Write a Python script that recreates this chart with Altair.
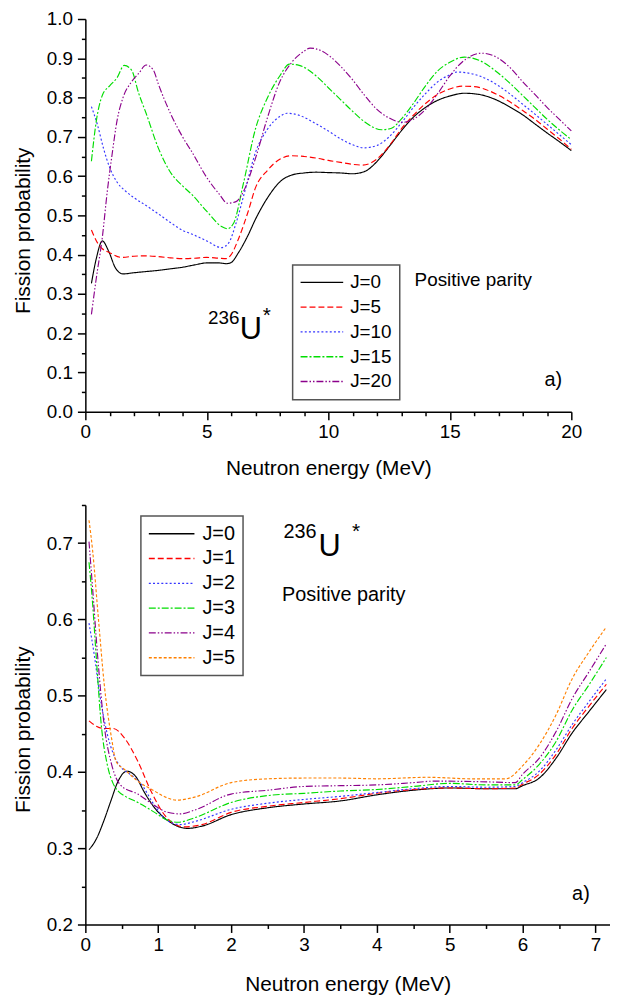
import altair as alt
import pandas as pd

FONT = "Liberation Sans, Arial, Helvetica, sans-serif"

# ---------------- top panel data (J = 0 .. 20) ----------------
top_labels = ["J=0", "J=5", "J=10", "J=15", "J=20"]
top_colors = ["#000000", "#ff0000", "#3535ff", "#00dd00", "#8b008b"]
top_dashes = [[1, 0], [6, 3], [2, 2.2], [7, 2, 2, 2], [7, 2, 1.5, 2, 1.5, 2]]

top_j0_x = [0.25, 0.45, 0.7, 0.95, 1.25, 1.55, 2.0, 2.5, 3.0, 3.5, 4.0, 4.5, 5.0, 5.5, 5.8, 6.0, 6.3, 6.7, 7.0, 7.5, 8.0, 8.5, 9.0, 9.5, 10.0, 10.5, 11.0, 11.5, 12.0, 12.5, 13.0, 13.5, 14.0, 14.5, 15.0, 15.6, 16.2, 16.8, 17.5, 18.0, 18.5, 19.0, 19.5, 20.0]
top_j0_y = [0.327, 0.39, 0.435, 0.41, 0.365, 0.351, 0.354, 0.357, 0.36, 0.364, 0.368, 0.374, 0.379, 0.379, 0.377, 0.38, 0.405, 0.45, 0.49, 0.545, 0.585, 0.603, 0.608, 0.61, 0.609, 0.608, 0.606, 0.612, 0.637, 0.675, 0.715, 0.75, 0.775, 0.793, 0.804, 0.811, 0.808, 0.797, 0.775, 0.756, 0.733, 0.71, 0.688, 0.665]

top_j5_x = [0.25, 0.5, 0.7, 1.0, 1.5, 2.0, 2.5, 3.0, 3.5, 4.0, 4.5, 5.0, 5.5, 5.8, 6.0, 6.3, 6.7, 7.0, 7.5, 8.0, 8.5, 9.0, 9.5, 10.0, 10.5, 11.0, 11.4, 11.8, 12.2, 12.6, 13.0, 13.5, 14.0, 14.5, 15.0, 15.5, 16.0, 16.5, 17.0, 17.5, 18.0, 18.5, 19.0, 19.5, 20.0]
top_j5_y = [0.463, 0.43, 0.415, 0.405, 0.393, 0.396, 0.397, 0.395, 0.392, 0.39, 0.391, 0.393, 0.391, 0.39, 0.40, 0.44, 0.51, 0.57, 0.615, 0.643, 0.652, 0.65, 0.646, 0.64, 0.635, 0.63, 0.628, 0.635, 0.655, 0.685, 0.72, 0.755, 0.785, 0.808, 0.822, 0.829, 0.828, 0.82, 0.806, 0.788, 0.767, 0.745, 0.72, 0.695, 0.668]

top_j10_x = [0.25, 0.5, 0.75, 1.0, 1.3, 1.65, 2.0, 2.5, 3.0, 3.5, 4.0, 4.4, 5.0, 5.6, 5.9, 6.2, 6.6, 7.0, 7.5, 8.0, 8.3, 8.8, 9.5, 10.0, 10.5, 11.0, 11.45, 12.0, 12.5, 13.0, 13.5, 14.0, 14.5, 15.0, 15.3, 15.8, 16.5, 17.0, 17.5, 18.0, 18.5, 19.0, 19.5, 20.0]
top_j10_y = [0.777, 0.73, 0.67, 0.622, 0.585, 0.562, 0.545, 0.525, 0.504, 0.482, 0.462, 0.452, 0.435, 0.418, 0.43, 0.48, 0.57, 0.66, 0.72, 0.752, 0.76, 0.755, 0.733, 0.715, 0.695, 0.68, 0.672, 0.678, 0.70, 0.735, 0.775, 0.81, 0.84, 0.858, 0.865, 0.862, 0.848, 0.83, 0.808, 0.783, 0.758, 0.732, 0.706, 0.68]

top_j15_x = [0.25, 0.45, 0.7, 1.0, 1.3, 1.6, 1.9, 2.2, 2.5, 3.0, 3.5, 4.0, 4.4, 5.0, 5.6, 5.85, 6.1, 6.5, 7.0, 7.5, 8.0, 8.4, 8.8, 9.5, 10.0, 10.5, 11.0, 11.5, 12.2, 12.6, 13.0, 13.5, 14.0, 14.5, 15.0, 15.6, 16.2, 17.0, 17.5, 18.0, 18.5, 19.0, 19.5, 20.0]
top_j15_y = [0.638, 0.74, 0.806, 0.83, 0.85, 0.882, 0.87, 0.81, 0.76, 0.672, 0.61, 0.575, 0.552, 0.51, 0.472, 0.466, 0.48, 0.58, 0.72, 0.80, 0.855, 0.885, 0.882, 0.855, 0.825, 0.795, 0.765, 0.738, 0.718, 0.722, 0.745, 0.785, 0.83, 0.868, 0.89, 0.903, 0.895, 0.862, 0.835, 0.805, 0.775, 0.745, 0.718, 0.693]

top_j20_x = [0.25, 0.45, 0.7, 0.9, 1.1, 1.3, 1.55, 1.9, 2.2, 2.5, 2.8, 3.0, 3.5, 4.0, 4.4, 5.0, 5.5, 5.85, 6.2, 6.5, 7.0, 7.5, 8.0, 8.5, 9.0, 9.25, 9.6, 10.0, 10.5, 11.0, 11.5, 12.0, 12.5, 13.05, 13.5, 14.0, 14.5, 15.0, 15.5, 16.3, 17.0, 17.5, 18.0, 18.5, 19.0, 19.5, 20.0]
top_j20_y = [0.248, 0.34, 0.445, 0.56, 0.655, 0.74, 0.80, 0.84, 0.862, 0.883, 0.87, 0.835, 0.76, 0.70, 0.66, 0.596, 0.555, 0.531, 0.535, 0.56, 0.645, 0.75, 0.84, 0.89, 0.918, 0.926, 0.922, 0.908, 0.88, 0.845, 0.805, 0.77, 0.748, 0.737, 0.745, 0.77, 0.81, 0.855, 0.89, 0.913, 0.90, 0.875, 0.84, 0.808, 0.775, 0.745, 0.715]

top_series = [(top_j0_x, top_j0_y), (top_j5_x, top_j5_y), (top_j10_x, top_j10_y),
              (top_j15_x, top_j15_y), (top_j20_x, top_j20_y)]

top_x_ticks = list(range(0, 21))
top_y_ticks = [round(i * 0.05, 2) for i in range(0, 21)]

# ---------------- bottom panel data (J = 0 .. 5) ----------------
bot_labels = ["J=0", "J=1", "J=2", "J=3", "J=4", "J=5"]
bot_colors = ["#000000", "#ff0000", "#3535ff", "#00dd00", "#8b008b", "#ff8000"]
bot_dashes = [[1, 0], [6, 3], [2, 2.2], [7, 2, 2, 2], [7, 2, 1.5, 2, 1.5, 2], [3, 2]]

bot_j0_x = [0.05, 0.15, 0.25, 0.35, 0.45, 0.57, 0.7, 0.8, 0.95, 1.15, 1.4, 1.6, 2.0, 2.5, 3.0, 3.5, 4.0, 4.5, 5.0, 5.5, 5.9, 6.0, 6.23, 6.46, 6.68, 6.91, 7.15]
bot_j0_y = [0.298, 0.312, 0.335, 0.362, 0.388, 0.401, 0.393, 0.375, 0.353, 0.335, 0.326, 0.329, 0.344, 0.353, 0.358, 0.362, 0.37, 0.376, 0.379, 0.378, 0.378, 0.382, 0.392, 0.418, 0.451, 0.479, 0.508]

bot_j1_x = [0.05, 0.15, 0.25, 0.38, 0.54, 0.72, 0.9, 1.1, 1.35, 1.6, 2.0, 2.5, 3.0, 3.5, 4.0, 4.5, 5.0, 5.5, 5.9, 6.0, 6.23, 6.46, 6.68, 6.91, 7.15]
bot_j1_y = [0.467, 0.46, 0.457, 0.457, 0.444, 0.414, 0.375, 0.342, 0.328, 0.331, 0.347, 0.355, 0.36, 0.365, 0.372, 0.377, 0.379, 0.378, 0.379, 0.384, 0.397, 0.423, 0.457, 0.486, 0.515]

bot_j2_x = [0.05, 0.12, 0.2, 0.3, 0.4, 0.5, 0.6, 0.76, 0.95, 1.1, 1.3, 1.5, 2.0, 2.5, 3.0, 3.5, 4.0, 4.5, 5.0, 5.5, 5.9, 6.0, 6.23, 6.46, 6.68, 6.91, 7.15]
bot_j2_y = [0.595, 0.555, 0.50, 0.45, 0.42, 0.405, 0.398, 0.385, 0.356, 0.338, 0.331, 0.335, 0.351, 0.359, 0.364, 0.368, 0.373, 0.378, 0.381, 0.38, 0.381, 0.386, 0.401, 0.429, 0.462, 0.492, 0.522]

bot_j3_x = [0.05, 0.1, 0.15, 0.22, 0.3, 0.38, 0.45, 0.55, 0.72, 0.95, 1.1, 1.27, 1.5, 2.0, 2.5, 3.0, 3.5, 4.0, 4.5, 5.0, 5.5, 5.9, 6.0, 6.23, 6.46, 6.68, 6.91, 7.15]
bot_j3_y = [0.675, 0.62, 0.55, 0.46, 0.41, 0.385, 0.375, 0.368, 0.36, 0.347, 0.338, 0.334, 0.34, 0.36, 0.369, 0.372, 0.375, 0.377, 0.381, 0.385, 0.383, 0.383, 0.39, 0.41, 0.44, 0.481, 0.514, 0.55]

bot_j4_x = [0.05, 0.1, 0.17, 0.26, 0.36, 0.49, 0.72, 0.95, 1.1, 1.3, 1.5, 2.0, 2.5, 3.0, 3.5, 4.0, 4.5, 4.8, 5.5, 5.9, 6.0, 6.23, 6.46, 6.68, 6.91, 7.15]
bot_j4_y = [0.702, 0.64, 0.55, 0.46, 0.41, 0.382, 0.371, 0.356, 0.348, 0.345, 0.35, 0.371, 0.376, 0.381, 0.382, 0.383, 0.386, 0.388, 0.387, 0.386, 0.397, 0.418, 0.453, 0.496, 0.531, 0.568]

bot_j5_x = [0.05, 0.1, 0.18, 0.26, 0.36, 0.42, 0.54, 0.72, 0.95, 1.1, 1.25, 1.5, 2.0, 2.5, 3.0, 3.5, 4.0, 4.7, 5.3, 5.77, 6.0, 6.23, 6.46, 6.68, 6.91, 7.15]
bot_j5_y = [0.73, 0.69, 0.60, 0.514, 0.444, 0.414, 0.403, 0.388, 0.375, 0.367, 0.363, 0.367, 0.386, 0.391, 0.392, 0.392, 0.391, 0.393, 0.391, 0.391, 0.408, 0.436, 0.475, 0.522, 0.557, 0.59]

bot_series = [(bot_j0_x, bot_j0_y), (bot_j1_x, bot_j1_y), (bot_j2_x, bot_j2_y),
              (bot_j3_x, bot_j3_y), (bot_j4_x, bot_j4_y), (bot_j5_x, bot_j5_y)]

bot_x_ticks = [i * 0.5 for i in range(0, 15)]
bot_y_ticks = [round(0.2 + i * 0.05, 2) for i in range(0, 12)]

# annotation positions (data coordinates)
top_iso_x, top_iso_y = [5.05, 6.35, 7.3], [0.239, 0.207, 0.243]
top_par_x, top_par_y = [13.55], [0.335]
top_a_x, top_a_y = [18.9], [0.08]

bot_iso_x, bot_iso_y = [2.72, 3.2, 3.66], [0.715, 0.695, 0.714]
bot_par_x, bot_par_y = [2.7], [0.632]
bot_a_x, bot_a_y = [6.68], [0.24]

# long horizontal legend sample: custom symbol path spanning 6 symbol radii
LEGEND_LINE = "M-3,0L3,0"


def frame(labels, series):
    parts = []
    for lab, (xs, ys) in zip(labels, series):
        parts.append(pd.DataFrame({"E": xs, "P": ys, "J": lab}))
    return pd.concat(parts, ignore_index=True)


def tick_size(test):
    return {"condition": {"test": test, "value": 8}, "value": 4}


def panel(df, labels, colors, dashes, xdom, ydom, xticks, yticks, xmajor, ymajor,
          width, height, xtitle_y, ytitle_y, legend_opts, notes):
    x_axis = alt.Axis(values=xticks, title="Neutron energy (MeV)",
                      labelExpr=f"{xmajor} ? datum.label : ''",
                      format="~g", tickSize=tick_size(xmajor),
                      labelFlush=False, labelOverlap=False, labelPadding=3,
                      titleY=xtitle_y)
    y_axis = alt.Axis(values=yticks, title="Fission probability",
                      labelExpr=f"{ymajor} ? datum.label : ''",
                      format=".1f", tickSize=tick_size(ymajor),
                      labelFlush=False, labelOverlap=False, labelPadding=5,
                      titleX=-52, titleY=ytitle_y)
    xs = alt.Scale(domain=xdom, nice=False, zero=False)
    ys = alt.Scale(domain=ydom, nice=False, zero=False)
    legend = alt.Legend(orient="none", title=None, symbolType=LEGEND_LINE,
                        symbolStrokeWidth=1.4, labelFont=FONT, labelColor="black",
                        strokeColor="#555555", fillColor="white",
                        padding=8, **legend_opts)
    lines = alt.Chart(df).mark_line(interpolate="monotone", strokeWidth=1.15).encode(
        x=alt.X("E:Q", scale=xs, axis=x_axis),
        y=alt.Y("P:Q", scale=ys, axis=y_axis),
        color=alt.Color("J:N", scale=alt.Scale(domain=labels, range=colors), sort=labels, legend=legend),
        strokeDash=alt.StrokeDash("J:N", scale=alt.Scale(domain=labels, range=dashes), sort=labels, legend=legend),
    )
    layers = [lines]
    for tx, ty, texts, size in notes:
        d = pd.DataFrame({"E": tx, "P": ty, "T": texts})
        layers.append(alt.Chart(d).mark_text(align="left", baseline="middle", font=FONT,
                                             fontSize=size, color="black").encode(
            x=alt.X("E:Q", scale=xs, axis=x_axis),
            y=alt.Y("P:Q", scale=ys, axis=y_axis),
            text="T:N"))
    return alt.layer(*layers).properties(width=width, height=height)


top_df = frame(top_labels, top_series)
bot_df = frame(bot_labels, bot_series)

top_notes = [
    (top_iso_x[:1], top_iso_y[:1], ["236"], 19),
    (top_iso_x[1:2], top_iso_y[1:2], ["U"], 31),
    (top_iso_x[2:], top_iso_y[2:], ["*"], 21),
    (top_par_x, top_par_y, ["Positive parity"], 19),
    (top_a_x, top_a_y, ["a)"], 20),
]
bot_notes = [
    (bot_iso_x[:1], bot_iso_y[:1], ["236"], 20),
    (bot_iso_x[1:2], bot_iso_y[1:2], ["U"], 31),
    (bot_iso_x[2:], bot_iso_y[2:], ["*"], 21),
    (bot_par_x, bot_par_y, ["Positive parity"], 20),
    (bot_a_x, bot_a_y, ["a)"], 20),
]

top = panel(top_df, top_labels, top_colors, top_dashes, [0, 20], [0, 1],
            top_x_ticks, top_y_ticks, "datum.value % 5 == 0",
            "round(datum.value * 100) % 10 == 0", 490, 396, 46, 213,
            dict(legendX=209, legendY=248, labelFontSize=19, symbolSize=205,
                 symbolOffset=12, labelOffset=19, rowPadding=5),
            top_notes)
bottom = panel(bot_df, bot_labels, bot_colors, bot_dashes, [0, 7.2], [0.2, 0.75],
               bot_x_ticks, bot_y_ticks, "datum.value % 1 == 0",
               "round(datum.value * 100) % 10 == 0", 529, 423, 50, 226,
               dict(legendX=56, legendY=11, labelFontSize=20, symbolSize=235,
                    symbolOffset=13, labelOffset=21, rowPadding=5),
               bot_notes)

chart = alt.vconcat(top, bottom, spacing=18).resolve_scale(
    color="independent", strokeDash="independent", x="independent", y="independent"
).configure_view(stroke=None).configure_axis(
    grid=False, domainColor="black", domainWidth=1.5, tickColor="black", tickWidth=1.5,
    labelColor="black", titleColor="black", labelFont=FONT, titleFont=FONT,
    labelFontSize=19, titleFontSize=21, titleFontWeight="normal", labelOverlap=False
).configure_legend(strokeWidth=1.5).properties(
    padding={"left": 5, "top": -2, "right": 0, "bottom": 0},
    background="white"
)

chart.save("out.html", embed_options={"renderer": "svg", "actions": False})
